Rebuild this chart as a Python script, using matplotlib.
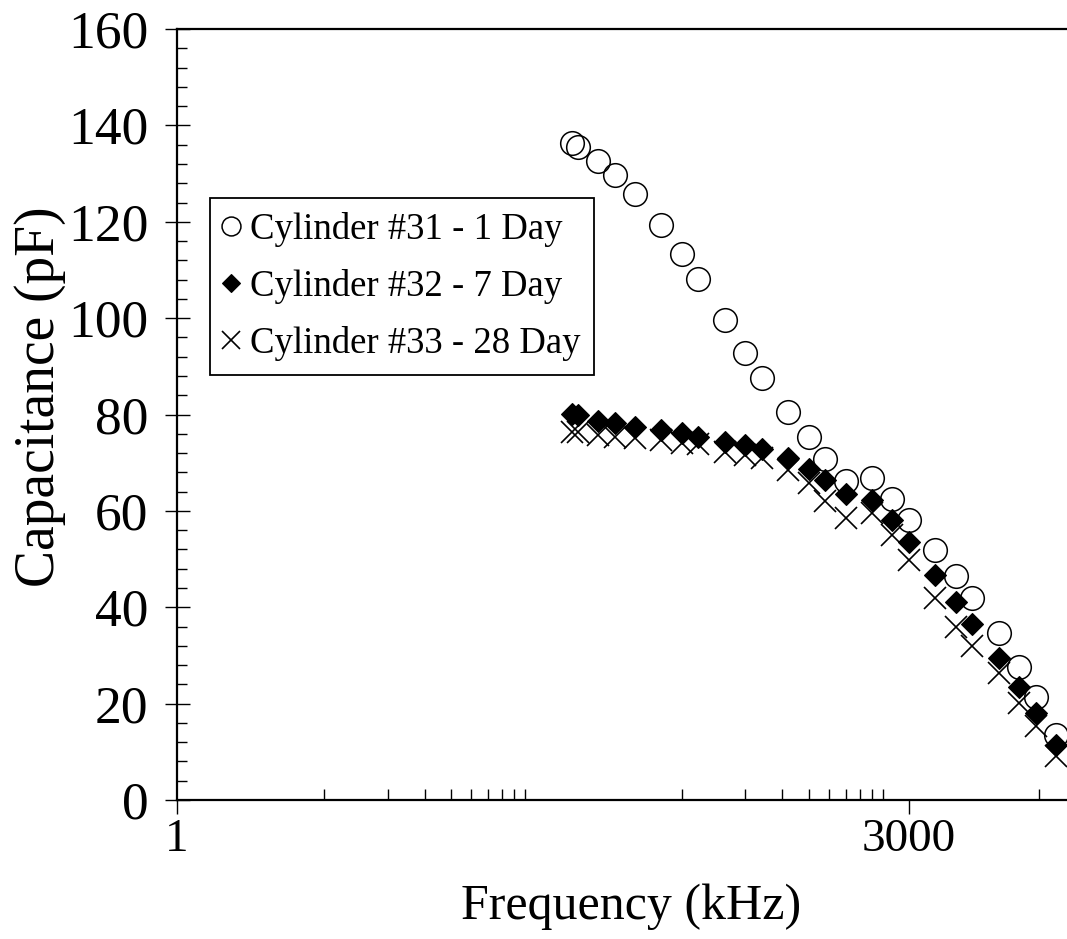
import matplotlib
matplotlib.use("Agg")
import matplotlib.pyplot as plt
from matplotlib.ticker import FixedLocator, NullFormatter

plt.rcParams['font.family'] = ['Liberation Serif', 'DejaVu Serif']

freq_khz = [75, 80, 100, 120, 150, 200, 250, 300, 400, 500, 600, 800, 1000,
            1200, 1500, 2000, 2500, 3000, 4000, 5000, 6000, 8000, 10000, 12000, 15000]
cyl31_1day = [136.3, 135.6, 132.6, 129.8, 125.7, 119.3, 113.4, 108.2, 99.6, 92.8, 87.6,
              80.6, 75.3, 70.8, 66.2, 66.8, 62.5, 58.2, 51.9, 46.5, 41.9, 34.7, 27.7, 21.4, 13.5]
cyl32_7day = [80.1, 79.9, 78.7, 78.2, 77.5, 76.8, 76.1, 75.4, 74.4, 73.7, 72.8,
              70.9, 68.8, 66.5, 63.5, 62.3, 58.1, 53.6, 46.7, 41.2, 36.5, 29.4, 23.4, 18.0, 11.4]
cyl33_28day = [76.4, 76.4, 75.7, 75.4, 75.1, 74.7, 74.1, 73.8, 72.3, 71.6, 70.9,
               68.5, 65.9, 62.1, 58.5, 59.5, 55.0, 49.8, 41.9, 36.0, 32.0, 26.3, 20.1, 15.4, 9.2]
series_labels = ["Cylinder #31 - 1 Day", "Cylinder #32 - 7 Day", "Cylinder #33 - 28 Day"]

x_major = [1, 3000]
x_major_labels = ["1", "3000"]
x_minor = [5, 10, 15, 20, 25, 30, 35, 40, 45,
           250, 500, 750, 1000, 1250, 1500, 1750, 2000, 2250, 12500]
y_major = [0, 20, 40, 60, 80, 100, 120, 140, 160]

fig = plt.figure(figsize=(10.67, 9.39), dpi=100)
ax = fig.add_axes([0.1659, 0.148, 1.0 - 0.1659, 0.969 - 0.148])

ax.plot(freq_khz, cyl31_1day, linestyle='none', marker='o', ms=17, mfc='none',
        mec='black', mew=1.1, label=series_labels[0], clip_on=False)
ax.plot(freq_khz, cyl32_7day, linestyle='none', marker='D', ms=11.5, mfc='black',
        mec='black', mew=0.8, label=series_labels[1], clip_on=False)
ax.plot(freq_khz, cyl33_28day, linestyle='none', marker='x', ms=16, color='black',
        mew=1.2, label=series_labels[2], clip_on=False)

ax.set_xscale('log')
ax.set_xlim(1, 10 ** 4.228)
ax.set_ylim(0, 160)

ax.xaxis.set_major_locator(FixedLocator(x_major))
ax.set_xticklabels(x_major_labels)
ax.xaxis.set_minor_locator(FixedLocator(x_minor))
ax.xaxis.set_minor_formatter(NullFormatter())
ax.yaxis.set_major_locator(FixedLocator(y_major))
ax.yaxis.set_minor_locator(FixedLocator([v for v in range(0, 161, 4) if v % 20 != 0]))

for s in ['left', 'bottom', 'top']:
    ax.spines[s].set_linewidth(1.6)
ax.spines['right'].set_visible(False)

ax.tick_params(axis='y', which='major', direction='inout', length=18, width=1.0,
               labelsize=38.5, pad=11.5)
ax.tick_params(axis='y', which='minor', direction='in', length=7.5, width=1.0)
ax.tick_params(axis='x', which='major', direction='out', length=10, width=1.0,
               labelsize=34, pad=3)
ax.tick_params(axis='x', which='minor', direction='in', length=8, width=1.0)
ax.tick_params(top=False, right=False, which='both')

ax.set_xlabel("Frequency (kHz)", fontsize=36)
ax.xaxis.set_label_coords(0.51, -0.108)
ax.set_ylabel("Capacitance (pF)", fontsize=40)
ax.yaxis.set_label_coords(-0.125, 0.523)

leg = ax.legend(loc='upper left', bbox_to_anchor=(0.037, 0.781), borderaxespad=0,
                fontsize=26.5, frameon=True, fancybox=False, edgecolor='black',
                markerscale=0.8, handlelength=0.4, handletextpad=0.3,
                labelspacing=0.6, borderpad=0.38, framealpha=1)
leg.get_frame().set_linewidth(1.3)

fig.savefig("out.png", dpi=100)
